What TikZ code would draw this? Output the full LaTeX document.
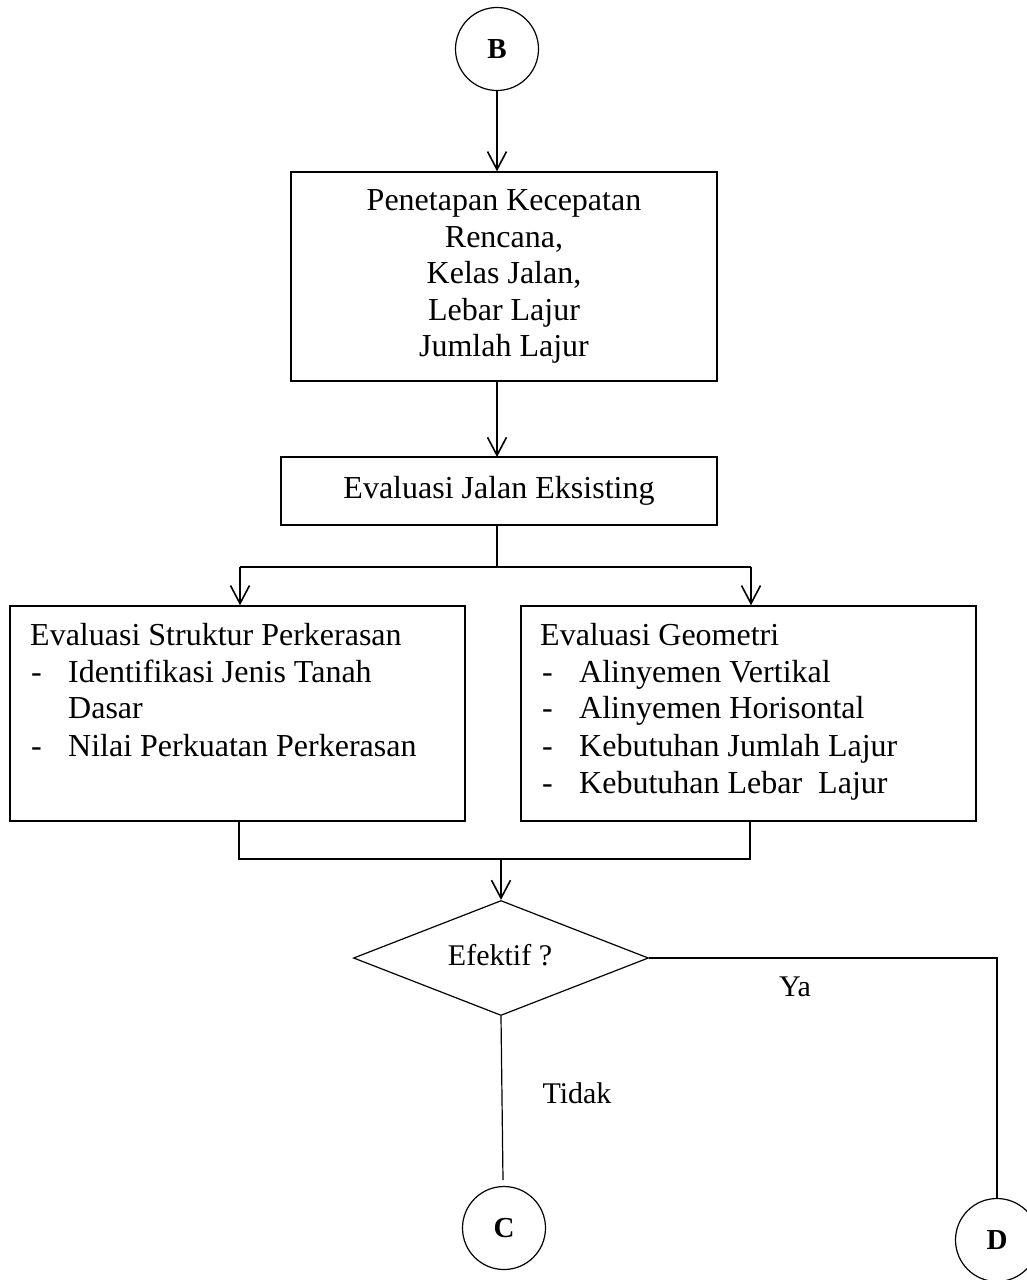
\documentclass[tikz,border=0pt]{standalone}
\usepackage{fontspec}
\setmainfont{Liberation Serif}
\usetikzlibrary{shapes.geometric,arrows.meta}
\tikzset{
  every picture/.style={x=1pt,y=-1pt},
  conn/.style={line width=1.6pt},
  arr/.style={conn,-{Straight Barb[length=18pt,width=19pt,line width=1.6pt]}},
  procbox/.style={draw,line width=1.5pt,inner sep=0pt,align=center,font=\fontsize{32}{36.5}\selectfont},
  btext/.style={anchor=base west,inner sep=0pt,font=\fontsize{32}{36.5}\selectfont},
  lbl/.style={inner sep=0pt,font=\fontsize{30}{34}\selectfont},
  connector/.style={draw,circle,line width=1.2pt,minimum size=83pt,inner sep=0pt,font=\fontsize{29}{32}\selectfont\bfseries},
  decision/.style={draw,diamond,line width=1.2pt,minimum width=295pt,minimum height=115pt,inner sep=0pt,aspect=2.56,font=\fontsize{30}{34}\selectfont}
}
\begin{document}
\begin{tikzpicture}
\useasboundingbox (0,0) rectangle (1027,1280);
\begin{scope}
\clip (0,0) rectangle (1027,1280);
% connectors circles
\node[connector] (B) at (497,49) {B};
\node[connector] (C) at (504,1228) {C};
\node[connector] (D) at (997,1240) {D};

% box 1
\node[procbox,minimum width=426pt,minimum height=209pt] (box1) at (504,276.5)
  {Penetapan Kecepatan\\Rencana,\\Kelas Jalan,\\Lebar Lajur\\Jumlah Lajur};
% box 2
\node[procbox,minimum width=436pt,minimum height=68pt] (box2) at (499,491) {Evaluasi Jalan Eksisting};
% box 3 and 4
\node[procbox,minimum width=455pt,minimum height=215pt] (box3) at (237.5,713.5) {};
\node[procbox,minimum width=455pt,minimum height=215pt] (box4) at (748.5,713.5) {};

\node[btext] (t3a) at (30,645) {Evaluasi Struktur Perkerasan};
\node[btext] (t3b) at (31,682) {-};
\node[btext] (t3c) at (68,682) {Identifikasi Jenis Tanah};
\node[btext] (t3d) at (68,718) {Dasar};
\node[btext] (t3e) at (31,756) {-};
\node[btext] (t3f) at (68,756) {Nilai Perkuatan Perkerasan};

\node[btext] (t4a) at (540,645) {Evaluasi Geometri};
\node[btext] (t4b) at (542,682) {-};
\node[btext] (t4c) at (579,682) {Alinyemen Vertikal};
\node[btext] (t4d) at (542,718) {-};
\node[btext] (t4e) at (579,718) {Alinyemen Horisontal};
\node[btext] (t4f) at (542,756) {-};
\node[btext] (t4g) at (579,756) {Kebutuhan Jumlah Lajur};
\node[btext] (t4h) at (542,793) {-};
\node[btext] (t4i) at (579,793) {Kebutuhan Lebar\ \ Lajur};

% decision
\node[decision] (dec) at (501,958) {};
\node[lbl] (dect) at (500,955) {Efektif ?};
\node[lbl] (ya) at (795,987) {Ya};
\node[lbl] (tidak) at (577,1093) {Tidak};

% coordinates
\coordinate (split) at (497,567);
\coordinate (sl) at (240,567);
\coordinate (sr) at (751,567);
\coordinate (ml) at (239,859);
\coordinate (mr) at (750,859);
\coordinate (mm) at (501,859);
\coordinate (dr) at (997,958);
\coordinate (cend) at (503,1180);

% arrows
\draw[arr] (B.south) -- (B.south |- box1.north);
\draw[arr] (497,381) -- (497,457);
\draw[conn] (497,525) -- (split);
\draw[conn] (sl) -- (sr);
\draw[arr] (sl) -- (sl |- box3.north);
\draw[arr] (sr) -- (sr |- box4.north);
\draw[conn] (ml |- box3.south) -- (ml) -- (mr) -- (mr |- box4.south);
\draw[arr] (mm) -- (dec.north);
\draw[conn] (dec.east) -- (dr) -- (D.north);
\draw[line width=1.2pt] (dec.south) -- (cend);
\end{scope}
\end{tikzpicture}
\end{document}
